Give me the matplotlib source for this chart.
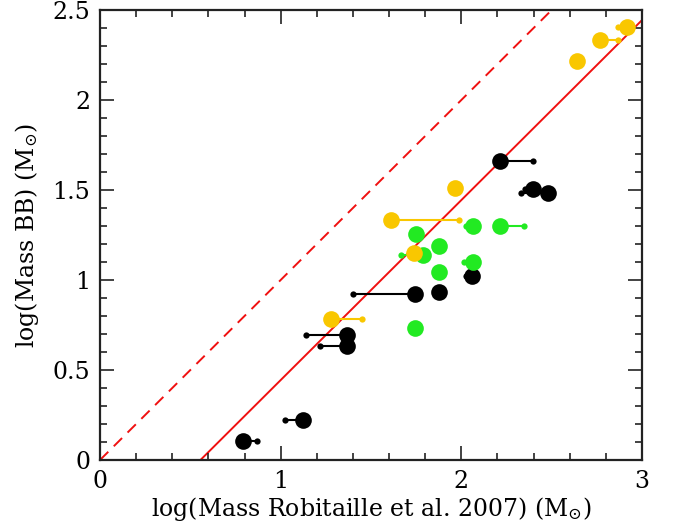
import numpy as np
import matplotlib.pyplot as plt
from matplotlib.ticker import MultipleLocator

plt.rcParams['font.family'] = ['DejaVu Serif']
plt.rcParams['mathtext.fontset'] = 'dejavuserif'

# log(Mass BB) for every source, with the two x positions (big circle / small dot)
black_y = [0.106, 0.222, 0.635, 0.694, 0.922, 0.935, 1.024, 1.485, 1.504, 1.661]
black_x_big = [0.79, 1.125, 1.369, 1.369, 1.745, 1.874, 2.06, 2.481, 2.398, 2.214]
black_x_small = [0.871, 1.024, 1.218, 1.138, 1.40, 1.874, 2.024, 2.33, 2.35, 2.398]

yellow_y = [0.782, 1.148, 1.333, 1.509, 2.218, 2.333, 2.404]
yellow_x_big = [1.278, 1.74, 1.61, 1.965, 2.642, 2.767, 2.914]
yellow_x_small = [1.45, 1.74, 1.985, 1.965, 2.642, 2.867, 2.867]

green_y = [0.732, 1.043, 1.102, 1.139, 1.19, 1.254, 1.30, 1.30]
green_x_big = [1.745, 1.874, 2.062, 1.786, 1.874, 1.749, 2.066, 2.214]
green_x_small = [1.745, 1.874, 2.015, 1.666, 1.874, 1.749, 2.024, 2.347]

offset = 0.556  # solid red line: y = x - offset

fig = plt.figure(figsize=(6.73, 5.28), dpi=100)
ax = fig.add_axes([0.1486, 0.1288, 0.8054, 0.8523])

xx = np.array([0, 3.0])
ax.plot(xx, xx, color='#f01010', lw=1.4, ls=(0, (6, 4)), zorder=1)
ax.plot(xx, xx - offset, color='#f01010', lw=1.4, zorder=1)

groups = [
    (black_y, black_x_big, black_x_small, 'black'),
    (green_y, green_x_big, green_x_small, '#22ea22'),
    (yellow_y, yellow_x_big, yellow_x_small, '#f9c700'),
]
for ys, xb, xs, c in groups:
    for y, b, s in zip(ys, xb, xs):
        ax.plot([b, s], [y, y], color=c, lw=1.5, zorder=2)
        ax.plot(s, y, 'o', color=c, ms=4.5, mew=0, zorder=3)
        ax.plot(b, y, 'o', color=c, ms=12, mew=0, zorder=4)

ax.set_xlim(0, 3)
ax.set_ylim(0, 2.5)
ax.xaxis.set_major_locator(MultipleLocator(1))
ax.xaxis.set_minor_locator(MultipleLocator(0.2))
ax.yaxis.set_major_locator(MultipleLocator(0.5))
ax.yaxis.set_minor_locator(MultipleLocator(0.1))
ax.set_xticks([0, 1, 2, 3])
ax.set_xticklabels(['0', '1', '2', '3'])
ax.set_yticks([0, 0.5, 1, 1.5, 2, 2.5])
ax.set_yticklabels(['0', '0.5', '1', '1.5', '2', '2.5'])
ax.tick_params(which='both', direction='in', top=True, right=True, width=1.2,
               labelsize=17, color='#222222')
ax.tick_params(which='major', length=10, pad=7)
ax.tick_params(which='minor', length=5)
for sp in ax.spines.values():
    sp.set_linewidth(1.6)
    sp.set_color('#222222')

ax.set_xlabel(r'log(Mass Robitaille et al. 2007) (M$_{\odot}$)', fontsize=17, labelpad=2)
ax.set_ylabel(r'log(Mass BB) (M$_{\odot}$)', fontsize=17, labelpad=8)

fig.savefig('out.png', dpi=100)
